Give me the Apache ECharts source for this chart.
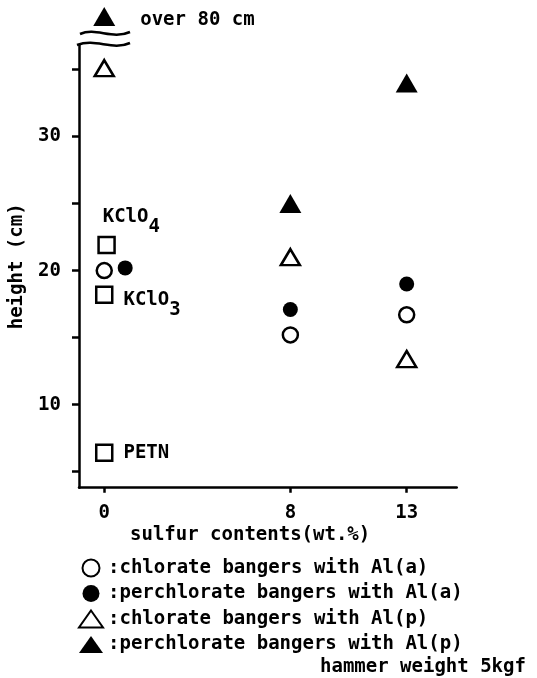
<!DOCTYPE html>
<html>
<head>
<meta charset="utf-8">
<script src="https://cdn.jsdelivr.net/npm/echarts@6/dist/echarts.min.js"></script>
<style>html,body{margin:0;padding:0;background:#fff}#c{width:537px;height:678px}</style>
</head>
<body>
<div id="c"></div>
<script>
// ---- data ----
const seriesNames = [
  'chlorate bangers with Al(a)',
  'perchlorate bangers with Al(a)',
  'chlorate bangers with Al(p)',
  'perchlorate bangers with Al(p)'
];
const sulfur = [0, 8, 13];                       // wt.% sulfur
const chlorateAlaX = [0, 8, 13];
const chlorateAla = [20.0, 15.2, 16.7];
const perchlorateAlaX = [0.9, 8, 13];            // 0 wt.% point drawn beside the open circle
const perchlorateAla = [20.2, 17.1, 19.0];
const chlorateAlpX = [0, 8, 13];
const chlorateAlp = [35.1, 21.0, 13.4];
const perchlorateAlpX = [0, 8, 13];
const perchlorateAlp = [80, 25.0, 34.0];         // first value: "over 80 cm"
const refNames = ['KClO4', 'KClO3', 'PETN'];
const refX = [0.1, 0, 0];
const refHeights = [21.9, 18.2, 6.4];
const xTicks = [0, 8, 13];
const yTicks = [5, 10, 15, 20, 25, 30, 35];
const yLabels = [10, 20, 30];

// ---- axis range / break ----
const Y_MIN = 3.8, Y_MAX = 36.83, X_MIN = -1.085, X_MAX = 15.15;
const BREAK_Y = 38.96; // where off-scale values are drawn, above the axis break

const FONT = '"DejaVu Sans Mono", "Liberation Mono", monospace';
const FS = 19;
const black = '#000';

function pts(xs, ys) {
  return xs.map((x, i) => [x, ys[i] > Y_MAX ? BREAK_Y : ys[i]]);
}

const openStyle = { color: '#fff', borderColor: black, borderWidth: 2.5, opacity: 1 };
const fillStyle = { color: black, borderColor: black, borderWidth: 0, opacity: 1 };
const txt = { color: black, fontFamily: FONT, fontWeight: 'bold', fontSize: FS };

const chart = echarts.init(document.getElementById('c'), null, { renderer: 'canvas' });
chart.setOption({
  animation: false,
  backgroundColor: '#fff',
  grid: { left: 78, right: 80.3, top: 45, bottom: 190.3, containLabel: false },
  xAxis: {
    type: 'value', min: X_MIN, max: X_MAX,
    axisLine: { onZero: false, lineStyle: { color: black, width: 2.5 } },
    axisTick: { show: true, length: 5, lineStyle: { color: black, width: 2.5 }, customValues: xTicks },
    axisLabel: Object.assign({ customValues: xTicks, margin: 16 }, txt),
    splitLine: { show: false }
  },
  yAxis: {
    type: 'value', min: Y_MIN, max: Y_MAX,
    name: 'height (cm)', nameLocation: 'middle', nameGap: 52,
    nameTextStyle: txt,
    axisLine: { onZero: false, lineStyle: { color: black, width: 2.5 } },
    axisTick: { show: true, length: 7, lineStyle: { color: black, width: 2.5 }, customValues: yTicks },
    axisLabel: Object.assign({ customValues: yLabels, margin: 18 }, txt),
    splitLine: { show: false }
  },
  legend: {
    orient: 'vertical', left: 78, top: 558.5, padding: 0,
    data: seriesNames,
    itemWidth: 24, itemHeight: 17, itemGap: 6.5,
    formatter: n => ':' + n,
    textStyle: Object.assign({ lineHeight: 19 }, txt),
    selectedMode: false
  },
  series: [
    { name: seriesNames[0], type: 'scatter', symbol: 'circle', symbolSize: 15, itemStyle: openStyle,
      data: pts(chlorateAlaX, chlorateAla), z: 3 },
    { name: seriesNames[1], type: 'scatter', symbol: 'circle', symbolSize: 15, itemStyle: fillStyle,
      data: pts(perchlorateAlaX, perchlorateAla), z: 3 },
    { name: seriesNames[2], type: 'scatter', symbol: 'triangle', symbolSize: [19, 16], itemStyle: openStyle,
      data: pts(chlorateAlpX, chlorateAlp), z: 3 },
    { name: seriesNames[3], type: 'scatter', symbol: 'triangle', symbolSize: [22, 19], itemStyle: fillStyle,
      data: pts(perchlorateAlpX, perchlorateAlp), clip: false, z: 3,
      label: Object.assign({ show: true, position: 'right', distance: 25, offset: [0, 3.5],
        formatter: p => perchlorateAlp[p.dataIndex] > Y_MAX ? 'over ' + perchlorateAlp[p.dataIndex] + ' cm' : '' }, txt) },
    { name: 'reference', type: 'scatter', symbol: 'rect', symbolSize: 16, z: 3,
      itemStyle: { color: '#fff', borderColor: black, borderWidth: 2.5, opacity: 1 },
      data: refNames.map((n, i) => {
        const d = { name: n, value: [refX[i], refHeights[i]] };
        const sub = n.match(/^(.*?)(\d)$/);
        const rich = {
          a: Object.assign({ lineHeight: sub ? 29 : 19, verticalAlign: 'top' }, txt),
          s: Object.assign({ verticalAlign: 'bottom' }, txt)
        };
        const fmt = sub ? '{a|' + sub[1] + '}{s|' + sub[2] + '}' : '{a|' + n + '}';
        if (i === 0) {
          d.label = { show: true, position: [5.4, -28.5], formatter: fmt, rich };
        } else {
          d.label = { show: true, position: 'right', distance: 10, formatter: fmt, rich, offset: [0, sub ? 10.7 : 0] };
        }
        return d;
      })
    }
  ],
  graphic: [
    { type: 'bezierCurve', z: 10, shape: { x1: 80, y1: 34, cpx1: 96, cpy1: 27, cpx2: 112, cpy2: 40, x2: 130, y2: 32 },
      style: { stroke: black, lineWidth: 2.5, fill: null } },
    { type: 'bezierCurve', z: 10, shape: { x1: 77, y1: 45, cpx1: 96, cpy1: 38, cpx2: 112, cpy2: 51, x2: 130, y2: 43 },
      style: { stroke: black, lineWidth: 2.5, fill: null } },
    { type: 'text', x: 130, y: 535, z: 10,
      style: { text: 'sulfur contents(wt.%)', font: 'bold ' + FS + 'px ' + FONT, fill: black, verticalAlign: 'middle' } },
    { type: 'text', x: 320, y: 667, z: 10,
      style: { text: 'hammer weight 5kgf', font: 'bold ' + FS + 'px ' + FONT, fill: black, verticalAlign: 'middle' } }
  ]
});
</script>
</body>
</html>
